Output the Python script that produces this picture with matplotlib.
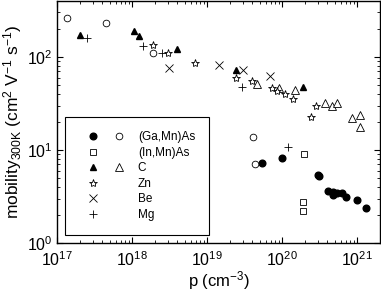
import matplotlib
matplotlib.use('Agg')
import matplotlib.pyplot as plt
from matplotlib.lines import Line2D
from matplotlib.legend_handler import HandlerTuple

plt.rcParams['font.family'] = ['Liberation Sans', 'DejaVu Sans']
plt.rcParams['mathtext.default'] = 'regular'

# (Ga,Mn)As
gamn_filled_p = [5.4e19, 1.0e20, 3.0e20, 3.1e20, 4.1e20, 4.7e20, 4.7e20, 5.3e20, 6.3e20, 7.1e20, 1.0e21, 1.3e21]
gamn_filled_mu = [7.3, 8.2, 5.4, 5.25, 3.6, 3.5, 3.3, 3.45, 3.45, 3.1, 2.9, 2.4]
gamn_open_p = [1.35e17, 4.5e17, 1.9e18, 4.1e19, 4.4e19]
gamn_open_mu = [263, 233, 110, 13.8, 7.1]

# (In,Mn)As
inmn_p = [1.95e20, 1.9e20, 1.9e20]
inmn_mu = [9.1, 2.76, 2.2]

# C doped
c_filled_p = [2.0e17, 1.07e18, 1.24e18, 3.9e18, 2.45e19, 1.9e20]
c_filled_mu = [173, 190, 169, 122, 72, 48]
c_open_p = [4.6e19, 9.1e19, 1.5e20, 3.7e20, 4.6e20, 5.4e20, 8.6e20, 1.1e21, 1.1e21]
c_open_mu = [51, 46.5, 44, 32, 30, 32, 22, 23.8, 17.7]

# Zn
zn_p = [1.9e18, 3.0e18, 6.8e18, 2.45e19, 4.0e19, 7.4e19, 8.6e19, 1.1e20, 1.4e20, 2.4e20, 2.8e20]
zn_mu = [134, 110, 86, 59, 55, 46.5, 43, 40, 35, 22.7, 30]

# Be
be_p = [3.1e18, 1.45e19, 3.0e19, 6.9e19]
be_mu = [76, 82, 72, 63]

# Mg
mg_p = [2.5e17, 1.4e18, 2.5e18, 2.9e19, 1.2e20]
mg_mu = [160, 132, 110, 48, 10.8]

legend_labels = ['(Ga,Mn)As', '(In,Mn)As', 'C', 'Zn', 'Be', 'Mg']

fig = plt.figure(figsize=(3.81, 2.91), dpi=100)
ax = fig.add_axes([0.150, 0.165, 0.847, 0.832])

ms = 4.8
filled = dict(ls='none', color='black', ms=ms)
hollow = dict(ls='none', mfc='white', mec='black', mew=0.6, ms=ms)

h_gf, = ax.plot(gamn_filled_p, gamn_filled_mu, marker='o', **filled)
h_go, = ax.plot(gamn_open_p, gamn_open_mu, marker='o', **hollow)
h_in, = ax.plot(inmn_p, inmn_mu, marker='s', **hollow)
h_cf, = ax.plot(c_filled_p, c_filled_mu, marker='^', **filled)
h_co, = ax.plot(c_open_p, c_open_mu, marker='^', **dict(hollow, ms=5.4))
h_zn, = ax.plot(zn_p, zn_mu, marker='*', **dict(hollow, ms=6))
h_be, = ax.plot(be_p, be_mu, marker='x', ls='none', color='black', mew=0.6, ms=5.2)
h_mg, = ax.plot(mg_p, mg_mu, marker='+', ls='none', color='black', mew=0.6, ms=5.8)

ax.set_xscale('log')
ax.set_yscale('log')
ax.set_xlim(1e17, 2e21)
ax.set_ylim(1, 400)

ax.tick_params(which='both', direction='in', top=True, right=True, labelsize=11.5)
ax.tick_params(which='major', length=4, width=0.8)
ax.tick_params(which='minor', length=2.2, width=0.6)
ax.tick_params(axis='x', pad=5)
for s in ax.spines.values():
    s.set_linewidth(1.0)

ax.set_xlabel('p (cm$^{-3}$)', fontsize=12, labelpad=0)
ax.set_ylabel('mobility$_{300K}$ (cm$^2$ V$^{-1}$ s$^{-1}$)', fontsize=12.5, labelpad=2)

blank = Line2D([], [], ls='none')
handles = [(h_gf, h_go), (h_in, blank), (h_cf, h_co), (h_zn, blank), (h_be, blank), (h_mg, blank)]
leg = ax.legend(handles, legend_labels, handler_map={tuple: HandlerTuple(ndivide=None, pad=0)},
                loc='lower left', bbox_to_anchor=(0.025, 0.033), borderaxespad=0,
                fontsize=8.5, handlelength=4.5, handletextpad=0.45, borderpad=1.2,
                labelspacing=0.3, fancybox=False, framealpha=1, edgecolor='black')
leg.get_frame().set_linewidth(0.8)

fig.savefig('out.png', dpi=100)
